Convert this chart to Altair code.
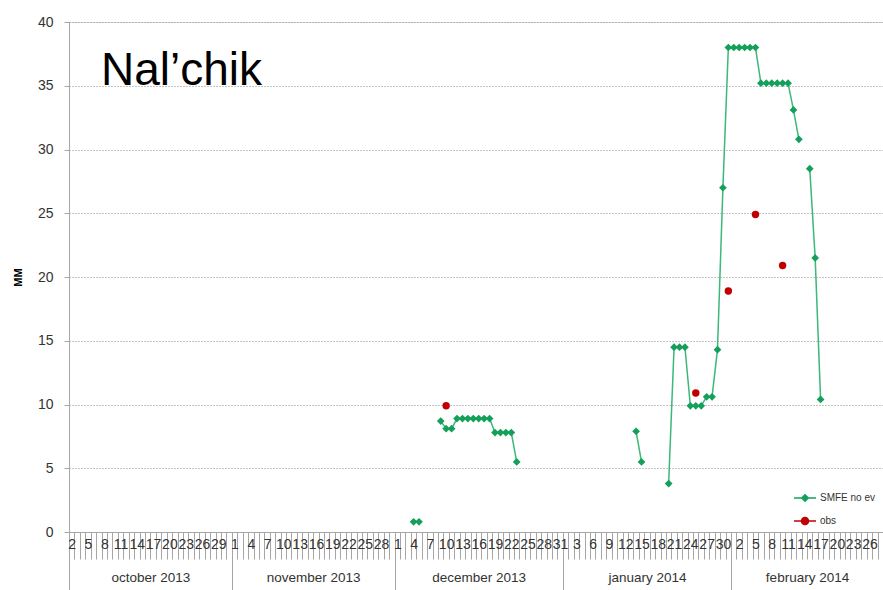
import altair as alt
import pandas as pd

# ---------------- data ----------------
START = "2013-10-02"   # first category on the axis
END = "2014-02-28"     # last category on the axis

smfe_dates = [
    "2013-12-04", "2013-12-05", "2013-12-06",
    "2013-12-09", "2013-12-10", "2013-12-11", "2013-12-12", "2013-12-13",
    "2013-12-14", "2013-12-15", "2013-12-16", "2013-12-17", "2013-12-18",
    "2013-12-19", "2013-12-20", "2013-12-21", "2013-12-22", "2013-12-23",
    "2013-12-24",
    "2014-01-14", "2014-01-15", "2014-01-16",
    "2014-01-20", "2014-01-21", "2014-01-22", "2014-01-23", "2014-01-24",
    "2014-01-25", "2014-01-26", "2014-01-27", "2014-01-28", "2014-01-29",
    "2014-01-30", "2014-01-31", "2014-02-01", "2014-02-02", "2014-02-03",
    "2014-02-04", "2014-02-05", "2014-02-06", "2014-02-07", "2014-02-08",
    "2014-02-09", "2014-02-10", "2014-02-11", "2014-02-12", "2014-02-13",
    "2014-02-14", "2014-02-15", "2014-02-16", "2014-02-17",
]
smfe_values = [
    0.8, 0.8, None,
    8.7, 8.1, 8.1, 8.9, 8.9,
    8.9, 8.9, 8.9, 8.9, 8.9,
    7.8, 7.8, 7.8, 7.8, 5.5,
    None,
    7.9, 5.5, None,
    3.8, 14.5, 14.5, 14.5, 9.9,
    9.9, 9.9, 10.6, 10.6, 14.3,
    27.0, 38.0, 38.0, 38.0, 38.0,
    38.0, 38.0, 35.2, 35.2, 35.2,
    35.2, 35.2, 35.2, 33.1, 30.8,
    None, 28.5, 21.5, 10.4,
]

obs_dates = ["2013-12-10", "2014-01-25", "2014-01-31", "2014-02-05", "2014-02-10"]
obs_values = [9.9, 10.9, 18.9, 24.9, 20.9]

month_starts = ["2013-11-01", "2013-12-01", "2014-01-01", "2014-02-01"]
y_ticks = [0, 5, 10, 15, 20, 25, 30, 35, 40]

SERIES_MODEL = "SMFE no ev"
SERIES_OBS = "obs"
TITLE = "Nal\u2019chik"

# ---------------- derived tables ----------------
t0 = pd.Timestamp(START)
n_days = (pd.Timestamp(END) - t0).days + 1


def day_index(dates):
    return [(pd.Timestamp(d) - t0).days for d in dates]


smfe_df = pd.DataFrame({"i": day_index(smfe_dates), "v": smfe_values,
                        "series": SERIES_MODEL})
smfe_pts = smfe_df.dropna(subset=["v"]).reset_index(drop=True)
obs_df = pd.DataFrame({"i": day_index(obs_dates), "v": obs_values,
                       "series": SERIES_OBS})

cat_bounds = [k - 0.5 for k in range(n_days + 1)]
month_bounds = [-0.5] + [b - 0.5 for b in day_index(month_starts)] + [n_days - 0.5]
month_mids = [(a + b) / 2 for a, b in zip(month_bounds[:-1], month_bounds[1:])]
day_label_vals = list(range(0, n_days, 3))

base_expr = f"utc({t0.year}, {t0.month - 1}, {t0.day}) + datum.value * 86400000"
day_expr = f"utcFormat({base_expr}, '%-d')"
month_expr = f"lower(utcFormat({base_expr}, '%B %Y'))"

# ---------------- style ----------------
FONT = "Liberation Sans"
AX = "#a6a6a6"
LINE_GREEN = "#3cb878"
MARK_GREEN = "#14a05a"
RED = "#c00000"

LINE_DIAMOND = "M-1,0L1,0M-0.3,0L0,-0.3L0.3,0L0,0.3Z"
LINE_CIRCLE = ("M-1,0L1,0M-0.32,0A0.32,0.32,0,1,0,0.32,0"
               "A0.32,0.32,0,1,0,-0.32,0Z")

xscale = alt.Scale(domain=[-0.5, n_days - 0.5], nice=False, zero=False)

y_enc = alt.Y(
    "v:Q",
    scale=alt.Scale(domain=[0, 40], nice=False),
    axis=alt.Axis(
        values=y_ticks, title="MM", titleFont=FONT, titleFontSize=11,
        titleFontWeight="bold", titleColor="black", titleAngle=270,
        titleX=-51, titleY=255, titleBaseline="middle", titleAlign="center",
        grid=True, gridColor="#8a8a8a", gridDash=[1, 2], gridWidth=1,
        tickSize=5, tickColor=AX, domainColor=AX,
        labelFont=FONT, labelFontSize=14, labelColor="#333333", labelPadding=11,
    ),
)

axis_ticks = alt.Axis(orient="bottom", values=cat_bounds, labels=False,
                      tickSize=27, tickColor=AX, domainColor=AX, grid=False,
                      title=None)
axis_days = alt.Axis(orient="bottom", values=day_label_vals, labelExpr=day_expr,
                     ticks=False, tickSize=0, domain=False, grid=False,
                     title=None, labelPadding=5, labelFont=FONT,
                     labelFontSize=14, labelColor="#333333",
                     labelOverlap=False, labelFlush=False)
axis_months = alt.Axis(orient="bottom", values=month_mids, labelExpr=month_expr,
                       ticks=False, tickSize=0, domain=False, grid=False,
                       title=None, labelPadding=38, labelFont=FONT,
                       labelFontSize=13.5, labelColor="#333333",
                       labelOverlap=False, labelFlush=False)
axis_sep = alt.Axis(orient="bottom", values=month_bounds, labels=False,
                    tickSize=58, tickColor=AX, domain=False, grid=False,
                    title=None)


def legend(symbol, y, color):
    return alt.Legend(orient="none", legendX=724, legendY=y, title=None,
                      symbolType=symbol, symbolSize=484,
                      symbolStrokeColor=color, symbolStrokeWidth=1.5,
                      labelFont=FONT, labelFontSize=10, labelColor="#333333",
                      labelOffset=3, padding=0)


line = alt.Chart(smfe_df).mark_line(
    color=LINE_GREEN, strokeWidth=1.5, invalid="break-paths-filter-domains"
).encode(x=alt.X("i:Q", scale=xscale, axis=axis_ticks), y=y_enc)

pts = alt.Chart(smfe_pts).mark_point(
    filled=True, shape="diamond", size=60, opacity=1
).encode(
    x=alt.X("i:Q", scale=xscale, axis=axis_days), y=y_enc,
    color=alt.Color("series:N",
                    scale=alt.Scale(domain=[SERIES_MODEL], range=[MARK_GREEN]),
                    legend=legend(LINE_DIAMOND, 464, MARK_GREEN)),
)

obs = alt.Chart(obs_df).mark_point(
    filled=True, shape="circle", size=55, opacity=1
).encode(
    x=alt.X("i:Q", scale=xscale, axis=axis_months), y=y_enc,
    color=alt.Color("series:N",
                    scale=alt.Scale(domain=[SERIES_OBS], range=[RED]),
                    legend=legend(LINE_CIRCLE, 487, RED)),
)

sep = alt.Chart(smfe_pts).mark_point(opacity=0).encode(
    x=alt.X("i:Q", scale=xscale, axis=axis_sep), y=y_enc
)

chart = (
    alt.layer(sep, line, pts, obs)
    .resolve_scale(color="independent")
    .resolve_axis(x="independent")
    .properties(
        width=814, height=510,
        autosize=alt.AutoSizeParams(type="none"),
        padding={"left": 69, "top": 22, "right": 0, "bottom": 58},
        title=alt.Title(TITLE, anchor="start", frame="group", font=FONT,
                        fontSize=46, fontWeight="normal", color="black",
                        dx=32, dy=80, offset=0),
    )
    .configure_view(stroke=None)
    .configure(background="white")
)

chart.save("out.html", embed_options={"renderer": "svg", "actions": False})
